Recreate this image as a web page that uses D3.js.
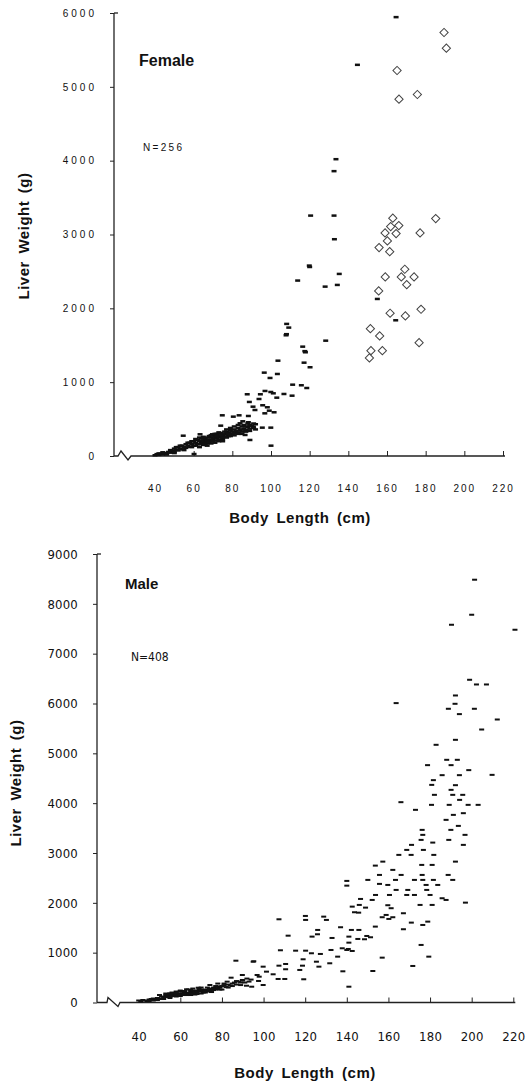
<!DOCTYPE html>
<html><head><meta charset="utf-8">
<script src="https://cdn.jsdelivr.net/npm/d3@7"></script>
<style>
html,body{margin:0;padding:0;background:#fff;}
svg{display:block;}
</style>
</head><body>
<div id="chart"></div>
<script>
// ---------- DATA ----------
const xTicks = [40, 60, 80, 100, 120, 140, 160, 180, 200, 220];
const femaleYTicks = [0, 1000, 2000, 3000, 4000, 5000, 6000];
const maleYTicks = [0, 1000, 2000, 3000, 4000, 5000, 6000, 7000, 8000, 9000];
const femaleLabel = "Female", femaleN = "N=256";
const maleLabel = "Male", maleN = "N=408";
const xTitle = "Body Length (cm)", yTitle = "Liver Weight (g)";

// female: [body length cm, liver weight g] shown as dashes
const femaleDashes = [
 [164.7,5944],[144.7,5298],[133.6,4020],[132.6,3858],[120.5,3256],[132.6,3256],[132.8,2936],[119.8,2579],[120,2560],
 [113.8,2376],[128,2294],[134.3,2317],[135.3,2466],[155,2127],[164.5,1838],[128.3,1562],[108.1,1789],[109.2,1739],
 [107.8,1635],[108,1650],[103.6,1291],[116.4,1481],[117.8,1405],[117.5,1420],[117.1,1264],[120.2,1202],[96.5,1129],
 [99.5,1057],[103.3,1111],[111.2,966],[115.7,958],[118.5,921],[110.9,817],[106.7,840],[96.9,881],[99.9,867],[101.2,849],
 [103,790],[87.7,836],[94.5,836],[93.8,772],[88.8,732],[90.7,668],[95.7,687],[98.1,660],[99.1,614],[101.6,592],[96.8,578],
 [91.7,623],[88.3,542],[83.5,551],[80.5,533],[74.8,551],[95.5,384],[99.9,384],[100,140],[89.1,217],[86.6,285],[74,411],
 [69.7,294],[63.3,294],[54.6,275],[60.2,27],[84,443],[85.4,470],[88.3,457],[90.9,397],
 [40,10],[41,25],[42,15],[43,30],[44,20],[45,40],[46,35],[47,55],[48,45],[49,70],[50,60],[50,100],[51,85],[52,75],[52,120],
 [53,100],[54,90],[54,140],[55,120],[56,110],[56,160],[57,140],[58,125],[58,180],[59,160],[60,140],[60,200],[61,180],[62,160],
 [62,220],[63,200],[63,120],[64,180],[64,240],[65,210],[65,150],[66,230],[66,190],[67,250],[67,170],[68,220],[68,270],[69,200],
 [69,250],[70,230],[70,280],[71,210],[71,260],[72,240],[72,300],[73,270],[73,220],[74,250],[74,310],[75,280],[75,230],[76,300],
 [76,260],[77,290],[77,330],[78,270],[78,320],[79,300],[79,350],[80,330],[80,290],[81,310],[81,360],[82,340],[83,380],[83,320],
 [84,350],[85,400],[85,330],[86,370],[86,420],[87,350],[88,390],[88,440],[89,370],[90,410],[91,380],[92,430],
 [42,35],[44,50],[46,20],[48,80],[50,40],[51,120],[53,140],[55,80],[57,180],[59,120],[59,200],[61,140],[61,230],[63,160],
 [63,250],[65,180],[65,260],[67,210],[67,140],[69,170],[69,280],[71,180],[71,300],[73,200],[73,320],[75,260],[75,200],[77,250],
 [77,360],[79,270],[79,380],[81,280],[81,400],[83,300],[83,420],[85,360],[85,300],[87,400],[87,330],[89,420],[89,340],[91,440],
 [92,360],[64,210],[66,160],[68,190],[70,200],[72,270],[74,280],[76,330],[78,300]
];
// female: open diamonds
const femaleDiamonds = [
 [189.5,5736],[190.7,5524],[165.2,5221],[166.2,4833],[175.7,4896],
 [163,3221],[185.2,3216],[161.9,3107],[166.1,3121],[159,3022],[164.7,3012],[177.1,3022],[160.2,2913],[155.9,2823],[161.4,2768],
 [159.1,2425],[169.2,2529],[167.4,2425],[174,2425],[170.2,2321],[155.7,2236],
 [161.6,1934],[169.5,1897],[177.6,1987],[151.4,1725],[156.2,1626],[151.7,1427],[157.6,1427],[150.9,1328],[176.6,1535]
];
// male: dashes
const maleDashes = [
 [201.4,8484],[200,7781],[190.3,7580],[220.8,7480],[199,6476],[202.3,6382],[207.1,6382],[163.7,6008],[192.2,6161],[192,5994],
 [188.8,5894],[201.3,5894],[194.1,5787],[212.3,5679],[204.8,5478],[192.2,5271],[182.9,5171],[188,4870],[193.1,4870],[178.8,4763],
 [190.1,4763],[198.6,4663],[185.8,4562],[194.1,4562],[209.8,4568],[181.6,4462],[180.8,4367],[192.2,4361],[190.1,4267],[182.1,4167],
 [190.9,4167],[195.7,4167],[194.2,4066],[166,4020],[180.7,3966],[189.2,3966],[198.3,3966],[203.1,3966],[173,3866],[196,3799],
 [191.2,3765],[187.7,3665],[193.6,3544],[190,3464],[196.8,3364],[189,3263],[196,3163],[176.2,3464],[176.5,3364],[175.7,3263],
 [181.3,3209],[171.1,3163],[168.8,3062],[176.8,3062],[165,2962],[170.9,2962],[181.8,2962],[192.2,2827],[157.3,2827],[153.7,2747],
 [176,2761],[181,2761],[162.1,2661],[155.7,2560],[166.1,2560],[176.2,2560],[188.7,2560],[163.4,2460],[150.1,2460],[172.5,2460],
 [176.5,2460],[181.6,2460],[190.9,2460],[155.7,2380],[140,2440],[140,2345],[159.7,2359],[163.7,2259],[169.3,2259],[178.1,2359],
 [183.7,2359],[178.4,2259],[168.8,2158],[172.5,2158],[160.5,2158],[153.8,2158],[180,2158],[146.6,2078],[152.2,2058],[185.8,2092],
 [187.7,2058],[197,2004],[142.6,1924],[149,1904],[159.7,1952],[161.3,1892],[175.2,1958],[181,1958],[167.2,1791],[143.7,1811],
 [158.9,1757],[157,1711],[162.1,1711],[160.2,1677],[178.9,1623],[171,1603],[176.5,1556],[167.2,1470],[137,1510],[142.2,1456],
 [145.8,1456],[153.7,1523],[141,1322],[149.6,1335],[145.3,1275],[141,1201],[175.7,1155],[107.4,1670],[120.1,1737],[120.2,1657],
 [128.9,1723],[130.2,1657],[111.8,1341],[123.3,1322],[126,1456],[125.9,1369],[132.9,1295],[137.8,1088],[140,1054],[142.6,1034],
 [157,900],[179.4,920],[171.7,733],[152.5,632],[138.1,626],[141,317],[146,1958],[145.7,1803],[148.5,1269],[151.4,1309],
 [108.1,1048],[115.4,1040],[120.2,1040],[123,988],[127.3,974],[132.4,1054],[135.6,920],[140.7,1074],[95.3,827],[99.8,719],
 [107.4,739],[110.6,773],[96.9,552],[101.4,619],[104.6,566],[110.6,667],[119,867],[118.7,739],[125.4,819],[126.6,719],
 [131.8,787],[119.3,466],[94.3,317],[99.8,351],[110.2,472],[107,472],[117.4,653],
 [86.7,839],[95,819],[84.4,498],[89.8,552],[89.8,452],[97.9,518],[97.6,432],[82.5,418],[91.8,337],[74.2,351],[79,317],[63,265],
 [68.6,297],[59.8,217],[55,185],
 [40,40],[42,50],[44,30],[45,60],[46,70],[48,60],[49,90],[50,80],[51,120],[52,100],[53,110],[54,140],[55,130],[56,160],[57,150],
 [58,120],[59,170],[60,180],[61,160],[62,200],[63,190],[64,170],[65,220],[66,210],[67,200],[68,240],[69,230],[70,220],[71,250],
 [72,260],[73,240],[74,280],[75,270],[76,300],[77,260],[78,320],[79,300],[80,330],[81,350],[82,310],[83,360],[84,340],[85,380],
 [86,400],[87,360],[88,420],[89,400],[90,440],[92,480],[94,460],
 [50,150],[53,180],[56,200],[58,220],[60,240],[62,150],[64,260],[66,280],[68,170],[70,300],[72,200],[74,220],[76,250],[78,380],
 [80,260],[55,90],[60,130],[65,150],[70,180],[75,210],[47,40],[52,70],
 [41,20],[43,40],[45,30],[47,80],[49,50],[51,70],[53,150],[55,110],[57,190],[59,140],[61,220],[63,150],[65,250],[67,160],[69,270],
 [71,200],[73,300],[75,240],[77,330],[79,260],[81,380],[83,300],[85,330],[87,430],[89,350],[91,400],[93,420],
 [54,170],[56,130],[58,190],[60,160],[62,230],[64,200],[66,240],[68,210],[70,260],[72,230],[74,250],[76,280],[78,290],[62,180],[66,180]
];

// ---------- DRAW ----------
const W = 528, H = 1086;
const svg = d3.select("#chart").append("svg").attr("width", W).attr("height", H)
  .style("background", "#fff");

function panel(cfg) {
  const g = svg.append("g");
  const x = d3.scaleLinear().domain([40, 220]).range(cfg.xRange);
  const y = d3.scaleLinear().domain([0, cfg.yMax]).range(cfg.yRange);
  const ax = cfg.axisX, y0 = y(0), yTop = y(cfg.yMax);

  // y axis
  const yAxis = d3.axisLeft(y).tickValues(cfg.yTicks).tickSize(4).tickPadding(cfg.yPad)
    .tickFormat(d3.format("d"));
  const yg = g.append("g").attr("transform", `translate(${ax},0)`).call(yAxis);
  yg.select(".domain").remove();
  yg.selectAll(".tick line").attr("stroke", "#222").attr("stroke-width", 1);
  yg.selectAll(".tick text").attr("fill", "#111").style("font-family", cfg.tickFont)
    .style("font-size", cfg.tickSize + "px").style("letter-spacing", cfg.yLS + "px")
    .style("font-stretch", cfg.stretch);
  g.append("line").attr("x1", ax).attr("x2", ax).attr("y1", yTop).attr("y2", y0)
    .attr("stroke", "#222").attr("stroke-width", 1.3);
  g.append("line").attr("x1", ax).attr("x2", ax + 4).attr("y1", yTop).attr("y2", yTop)
    .attr("stroke", "#222").attr("stroke-width", 1.3);

  // x axis (ticks upward, labels far below)
  const xAxis = d3.axisBottom(x).tickValues(xTicks).tickSize(-5).tickPadding(cfg.xPad)
    .tickFormat(d3.format("d"));
  const xg = g.append("g").attr("transform", `translate(0,${y0})`).call(xAxis);
  xg.select(".domain").remove();
  xg.selectAll(".tick line").attr("stroke", "#222").attr("stroke-width", 1)
    .attr("opacity", d => d === 40 ? 0 : 1);
  xg.selectAll(".tick text").attr("fill", "#111").style("font-family", cfg.tickFont)
    .style("font-size", cfg.tickSize + "px").style("letter-spacing", cfg.xLS + "px")
    .style("font-stretch", cfg.stretch);
  // baseline with axis break
  const b = cfg.brk;
  g.append("path").attr("fill", "none").attr("stroke", "#222").attr("stroke-width", 1.3)
    .attr("d", `M${ax},${y0} L${ax + b[0]},${y0} L${ax + b[1]},${y0 - 5} L${ax + b[2]},${y0 + 4} L${ax + b[3]},${y0} L${x(220) + 2},${y0}`);

  // marks
  g.append("g").selectAll("rect").data(cfg.dashes).join("rect")
    .attr("x", d => x(d[0]) - cfg.dashW / 2).attr("y", d => y(d[1]) - cfg.dashH / 2)
    .attr("width", cfg.dashW).attr("height", cfg.dashH).attr("fill", "#111");
  if (cfg.diamonds) {
    const sym = d3.symbol().type(d3.symbolSquare).size(34);
    g.append("g").selectAll("path").data(cfg.diamonds).join("path")
      .attr("d", sym)
      .attr("transform", d => `translate(${x(d[0])},${y(d[1])}) rotate(45)`)
      .attr("fill", "#fff").attr("fill-opacity", 0.6).attr("stroke", "#444").attr("stroke-width", 1);
  }

  // titles
  g.append("text").attr("x", cfg.xTitlePos[0]).attr("y", cfg.xTitlePos[1]).attr("text-anchor", "middle")
    .style("font-family", "Liberation Sans, Arial, sans-serif").style("font-weight", "bold")
    .style("font-size", "15px").style("letter-spacing", "0.5px").style("word-spacing", "3px")
    .attr("fill", "#111").text(xTitle);
  g.append("text").attr("transform", `translate(${cfg.yTitlePos[0]},${cfg.yTitlePos[1]}) rotate(-90)`)
    .attr("text-anchor", "middle")
    .style("font-family", "Liberation Sans, Arial, sans-serif").style("font-weight", "bold")
    .style("font-size", "15px").style("letter-spacing", "0.5px").style("word-spacing", "3px")
    .attr("fill", "#111").text(yTitle);
  g.append("text").attr("x", cfg.labelPos[0]).attr("y", cfg.labelPos[1])
    .style("font-family", "Liberation Sans, Arial, sans-serif").style("font-weight", "bold")
    .style("font-size", cfg.labelSize + "px").attr("fill", "#111").text(cfg.label);
  g.append("text").attr("x", cfg.nPos[0]).attr("y", cfg.nPos[1])
    .style("font-family", cfg.tickFont).style("font-size", cfg.nSize + "px")
    .style("letter-spacing", cfg.nLS + "px").style("font-stretch", cfg.stretch)
    .attr("fill", "#111").text(cfg.n);
}

panel({
  xRange: [155, 503], yRange: [456, 13], yMax: 6000, yTicks: femaleYTicks, axisX: 114,
  yPad: 13, xPad: 29, tickFont: "Liberation Sans, Arial, sans-serif", tickSize: 10, yLS: 3, xLS: 2,
  stretch: "normal", brk: [4, 7, 14, 17],
  dashes: femaleDashes, diamonds: femaleDiamonds, dashW: 5, dashH: 2.5,
  xTitlePos: [300, 523], yTitlePos: [29, 236],
  label: femaleLabel, labelPos: [139, 66], labelSize: 16,
  n: femaleN, nPos: [143, 151], nSize: 10, nLS: 2.3
});

panel({
  xRange: [138.7, 513.3], yRange: [1002.5, 554], yMax: 9000, yTicks: maleYTicks, axisX: 97,
  yPad: 15, xPad: 29, tickFont: "Liberation Sans Narrow, DejaVu Sans Condensed, Arial Narrow, sans-serif", tickSize: 13, yLS: 0.2, xLS: 0.2,
  stretch: "condensed", brk: [10, 11, 21, 23],
  dashes: maleDashes, diamonds: null, dashW: 5, dashH: 2,
  xTitlePos: [305, 1078], yTitlePos: [21, 783],
  label: maleLabel, labelPos: [125, 589], labelSize: 15,
  n: maleN, nPos: [131, 661], nSize: 12, nLS: 0
});
</script>
</body></html>
